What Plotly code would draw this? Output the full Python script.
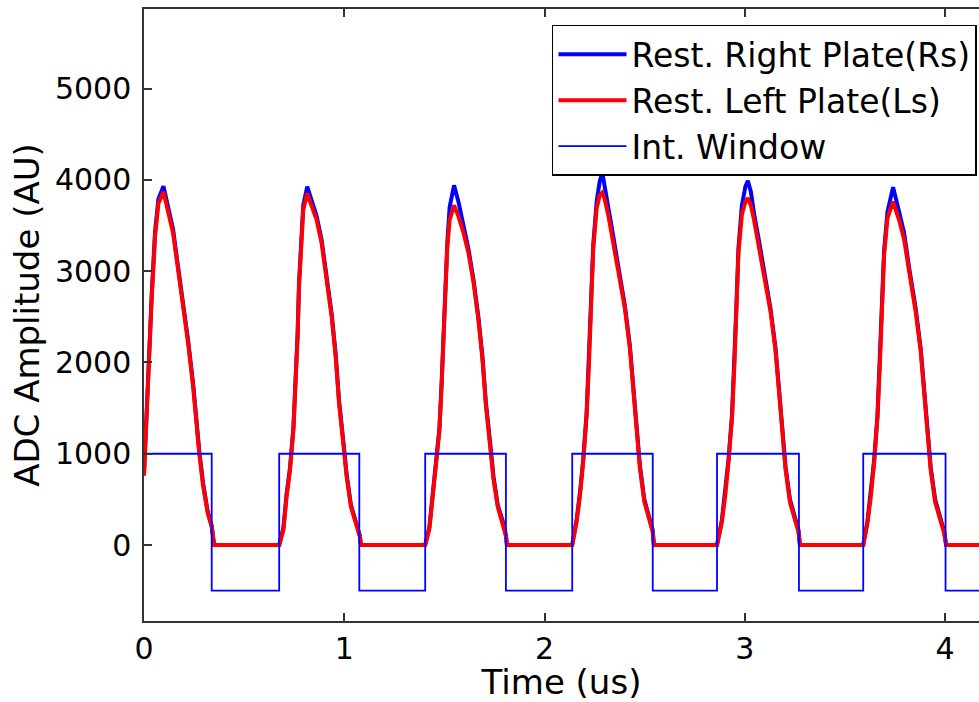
import plotly.graph_objects as go

# ---- data ----
time_us = [
    0.000, 0.008, 0.021, 0.038, 0.055, 0.072, 0.097, 0.120, 0.145, 0.165, 0.196, 0.221, 0.246, 0.262, 0.276, 0.295, 0.318, 0.338, 0.350,
    0.675, 0.696, 0.712, 0.729, 0.746, 0.757, 0.767, 0.774, 0.784, 0.795, 0.815, 0.837, 0.862, 0.887, 0.912, 0.937, 0.957, 0.974, 0.995, 1.012, 1.033, 1.057, 1.078, 1.083,
    1.404, 1.425, 1.441, 1.458, 1.475, 1.486, 1.496, 1.503, 1.514, 1.526, 1.548, 1.570, 1.595, 1.620, 1.645, 1.670, 1.690, 1.707, 1.728, 1.745, 1.766, 1.790, 1.807, 1.812,
    2.138, 2.160, 2.177, 2.193, 2.210, 2.222, 2.232, 2.243, 2.260, 2.275, 2.288, 2.300, 2.318, 2.343, 2.368, 2.401, 2.426, 2.443, 2.460, 2.476, 2.498, 2.521, 2.540, 2.546,
    2.861, 2.885, 2.902, 2.918, 2.936, 2.948, 2.958, 2.968, 2.985, 3.003, 3.015, 3.030, 3.045, 3.070, 3.095, 3.128, 3.153, 3.170, 3.187, 3.203, 3.225, 3.248, 3.268, 3.275,
    3.591, 3.612, 3.629, 3.645, 3.662, 3.674, 3.684, 3.695, 3.712, 3.740, 3.770, 3.795, 3.820, 3.853, 3.878, 3.895, 3.912, 3.928, 3.950, 3.973, 3.995, 4.005,
    4.250,
]

right_plate = [
    780, 1230, 1980, 2720, 3430, 3790, 3930, 3690, 3460, 3130, 2670, 2230, 1750, 1330, 1030, 680, 370, 210, 0,
    0, 190, 560, 850, 1290, 1770, 2320, 2870, 3340, 3720, 3925, 3770, 3600, 3340, 2970, 2530, 2090, 1580, 1140, 770, 440, 250, 100, 0,
    0, 200, 530, 880, 1280, 1780, 2330, 2840, 3300, 3700, 3940, 3760, 3500, 3240, 2910, 2490, 2060, 1560, 1130, 750, 440, 270, 110, 0,
    0, 280, 580, 940, 1450, 2040, 2660, 3290, 3760, 3980, 4080, 3950, 3700, 3380, 3030, 2620, 2180, 1740, 1300, 870, 500, 310, 160, 0,
    0, 270, 570, 930, 1430, 2010, 2640, 3250, 3720, 3930, 3990, 3870, 3640, 3340, 2990, 2590, 2160, 1730, 1290, 860, 500, 310, 160, 0,
    0, 260, 560, 920, 1420, 2000, 2610, 3220, 3650, 3920, 3650, 3420, 3040, 2590, 2150, 1720, 1280, 850, 500, 310, 150, 0,
    0,
]

left_plate = [
    760, 1200, 1950, 2680, 3380, 3740, 3870, 3640, 3420, 3100, 2640, 2200, 1720, 1300, 1000, 650, 350, 200, 0,
    0, 164, 530, 820, 1260, 1734, 2282, 2830, 3304, 3670, 3852, 3706, 3560, 3304, 2939, 2500, 2062, 1552, 1114, 748, 420, 237, 91, 0,
    0, 180, 500, 850, 1250, 1750, 2300, 2800, 3250, 3560, 3720, 3600, 3420, 3200, 2880, 2460, 2030, 1530, 1100, 720, 420, 250, 100, 0,
    0, 256, 548, 913, 1424, 2008, 2629, 3250, 3688, 3830, 3860, 3790, 3614, 3322, 2993, 2592, 2154, 1716, 1278, 840, 474, 292, 146, 0,
    0, 250, 540, 900, 1400, 1980, 2600, 3200, 3620, 3760, 3800, 3720, 3570, 3290, 2960, 2560, 2130, 1700, 1260, 830, 470, 290, 140, 0,
    0, 240, 530, 890, 1390, 1970, 2580, 3170, 3580, 3760, 3560, 3350, 3000, 2550, 2120, 1690, 1250, 820, 470, 290, 130, 0,
    0,
]

window_time = [0.0, 0.338, 0.675, 1.075, 1.404, 1.807, 2.138, 2.540, 2.861, 3.270, 3.591, 4.002, 4.250]
window_level = [1000, -500, 1000, -500, 1000, -500, 1000, -500, 1000, -500, 1000, -500, -500]

y_ticks = [0, 1000, 2000, 3000, 4000, 5000]
x_ticks = [0, 1, 2, 3, 4]

FONT = "DejaVu Sans"

fig = go.Figure()
fig.add_trace(go.Scatter(x=time_us, y=right_plate, mode="lines", name="Rest. Right Plate(Rs)",
                         line=dict(color="#0000FF", width=4)))
fig.add_trace(go.Scatter(x=time_us, y=left_plate, mode="lines", name="Rest. Left Plate(Ls)",
                         line=dict(color="#FF0000", width=4)))
fig.add_trace(go.Scatter(x=window_time, y=window_level, mode="lines", name="Int. Window",
                         line=dict(color="#0000FF", width=1.8, shape="hv")))

axis_color = "#333333"
fig.update_layout(
    width=979, height=702,
    margin=dict(l=144, r=0, t=9, b=81, autoexpand=False),
    paper_bgcolor="white", plot_bgcolor="white",
    font=dict(family=FONT, color="black"),
    showlegend=True,
    legend=dict(
        x=0.9976, y=0.974, xanchor="right", yanchor="top",
        bgcolor="white", bordercolor="black", borderwidth=1.5,
        font=dict(family=FONT, size=33, color="black"),
        itemwidth=68,
    ),
    xaxis=dict(
        range=[0, 4.169], tickvals=x_ticks, ticktext=[str(v) for v in x_ticks],
        showgrid=False, zeroline=False, automargin=False,
        showline=True, linecolor=axis_color, linewidth=1.5, mirror="ticks",
        ticks="inside", ticklen=8, tickwidth=1.5, tickcolor=axis_color,
        tickfont=dict(family=FONT, size=30, color="black"),
        ticklabelstandoff=0,
        title=dict(text="Time (us)", font=dict(family=FONT, size=34, color="black"), standoff=15),
    ),
    yaxis=dict(
        range=[-832, 5871], tickvals=y_ticks, ticktext=[str(v) for v in y_ticks],
        showgrid=False, zeroline=False, automargin=False,
        showline=True, linecolor=axis_color, linewidth=1.5, mirror=False,
        ticks="inside", ticklen=8, tickwidth=1.5, tickcolor=axis_color,
        tickfont=dict(family=FONT, size=30, color="black"),
        ticklabelstandoff=5,
        title=dict(text="ADC Amplitude (AU)", font=dict(family=FONT, size=34, color="black"), standoff=5),
    ),
)

fig.write_html("out.html")
